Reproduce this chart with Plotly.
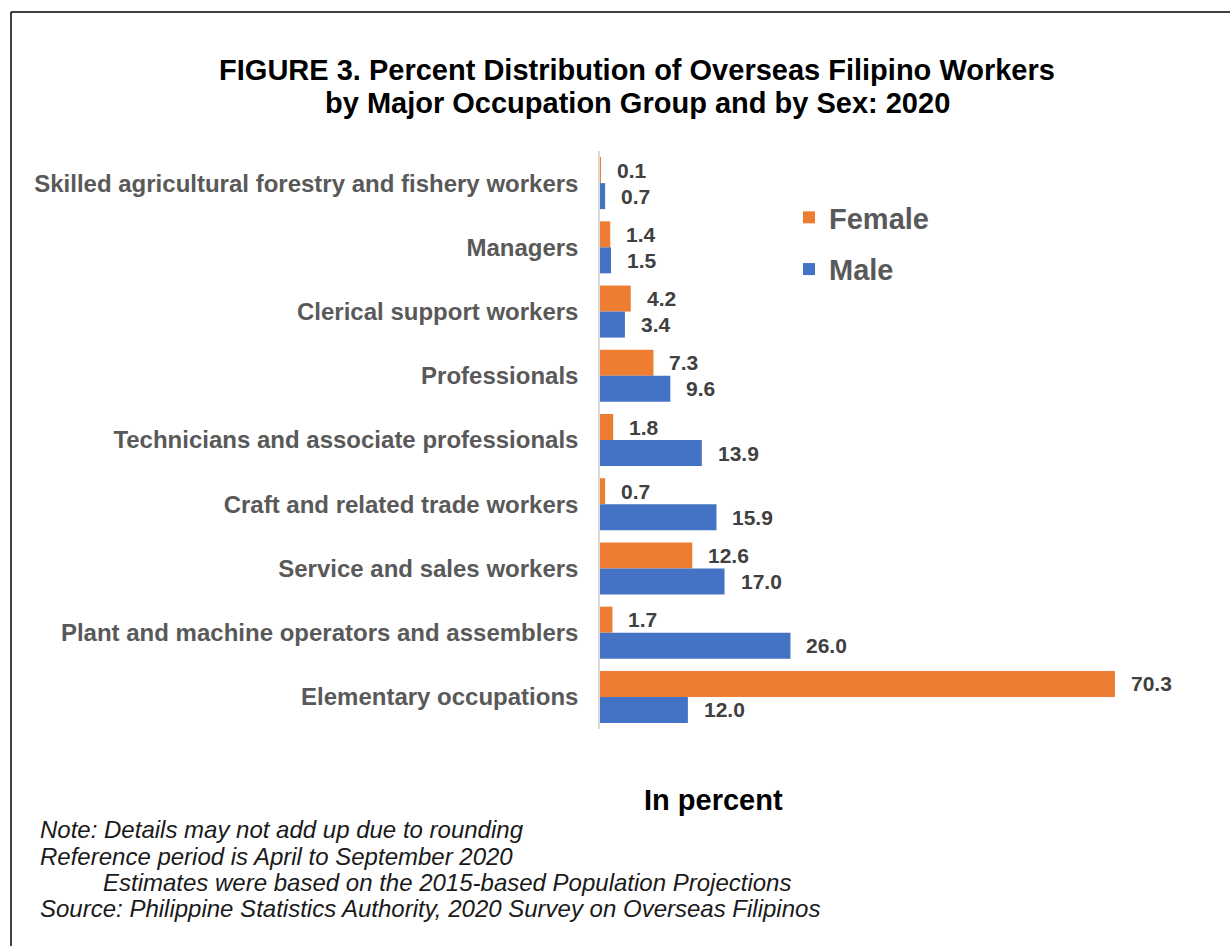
import plotly.graph_objects as go

categories = [
    "Skilled agricultural forestry and fishery workers",
    "Managers",
    "Clerical support workers",
    "Professionals",
    "Technicians and associate professionals",
    "Craft and related trade workers",
    "Service and sales workers",
    "Plant and machine operators and assemblers",
    "Elementary occupations",
]
female = [0.1, 1.4, 4.2, 7.3, 1.8, 0.7, 12.6, 1.7, 70.3]
male = [0.7, 1.5, 3.4, 9.6, 13.9, 15.9, 17.0, 26.0, 12.0]

title_line1 = "FIGURE 3. Percent Distribution of Overseas Filipino Workers"
title_line2 = "by Major Occupation Group and by Sex: 2020"
axis_title = "In percent"
notes = [
    "Note: Details may not add up due to rounding",
    "Reference period is April to September 2020",
    "Estimates were based on the 2015-based Population Projections",
    "Source: Philippine Statistics Authority, 2020 Survey on Overseas Filipinos",
]

W, H = 1230, 946
L, R, T, B = 600, 44, 151, 217
PW, PH = W - L - R, H - T - B


def px_x(px):
    return (px - L) / PW


def px_y(py):
    return (H - B - py) / PH


FEMALE_C = "#ED7D31"
MALE_C = "#4472C4"
FONT = "Liberation Sans, Arial, sans-serif"

fig = go.Figure()
fig.add_trace(go.Bar(y=categories, x=female, name="Female", orientation="h",
                     marker=dict(color=FEMALE_C, line=dict(width=0)), legendgroup="f"))
fig.add_trace(go.Bar(y=categories, x=male, name="Male", orientation="h",
                     marker=dict(color=MALE_C, line=dict(width=0)), legendgroup="m"))

annotations = []
for c, v in zip(categories, female):
    annotations.append(dict(x=v, y=c, xref="x", yref="y", text=f"<b>{v:.1f}</b>",
                            showarrow=False, xanchor="left", yanchor="middle",
                            xshift=14, yshift=13,
                            font=dict(family=FONT, size=21, color="#404040")))
for c, v in zip(categories, male):
    annotations.append(dict(x=v, y=c, xref="x", yref="y", text=f"<b>{v:.1f}</b>",
                            showarrow=False, xanchor="left", yanchor="middle",
                            xshift=14, yshift=-13,
                            font=dict(family=FONT, size=21, color="#404040")))

annotations.append(dict(x=px_x(637), y=px_y(103), xref="paper", yref="paper",
                        text=f"<b>{title_line2}</b>", showarrow=False,
                        xanchor="center", yanchor="middle",
                        font=dict(family=FONT, size=29, color="#000000")))
annotations.append(dict(x=px_x(713), y=px_y(800), xref="paper", yref="paper",
                        text=f"<b>{axis_title}</b>", showarrow=False,
                        xanchor="center", yanchor="middle",
                        font=dict(family=FONT, size=29, color="#000000")))
note_x = [38, 38, 101, 38]
note_y = [829, 856, 882, 909]
for t, nx, ny in zip(notes, note_x, note_y):
    annotations.append(dict(x=px_x(nx), y=px_y(ny), xref="paper", yref="paper",
                            text=f"<i>{t}</i>", showarrow=False,
                            xanchor="left", yanchor="middle",
                            font=dict(family=FONT, size=24, color="#1a1a1a")))

shapes = [
    dict(type="line", xref="paper", yref="paper", x0=px_x(11), x1=px_x(1240),
         y0=px_y(12), y1=px_y(12), line=dict(color="#000000", width=1.5)),
    dict(type="line", xref="paper", yref="paper", x0=px_x(11), x1=px_x(11),
         y0=px_y(12), y1=px_y(960), line=dict(color="#000000", width=1.5)),
]

fig.update_layout(
    width=W, height=H,
    margin=dict(l=L, r=R, t=T, b=B, autoexpand=False),
    paper_bgcolor="white", plot_bgcolor="white",
    barmode="group", bargap=0.19, bargroupgap=0,
    title=dict(text=f"<b>{title_line1}</b>", x=637 / W, xanchor="center",
               y=1 - 70 / H, yanchor="middle",
               font=dict(family=FONT, size=29, color="#000000")),
    xaxis=dict(range=[0, 80], showticklabels=False, showgrid=False, zeroline=False,
               showline=False, fixedrange=True),
    yaxis=dict(autorange="reversed", showgrid=False, zeroline=False,
               showline=True, linecolor="#D9D9D9", linewidth=1.5,
               ticks="", ticklabelstandoff=15,
               tickfont=dict(family=FONT, size=24, color="#595959", weight="bold")),
    legend=dict(xref="container", yref="container", x=789 / W, y=1 - 192 / H,
                xanchor="left", yanchor="top", traceorder="grouped",
                tracegroupgap=11, bgcolor="rgba(0,0,0,0)",
                font=dict(family=FONT, size=29, color="#595959", weight="bold"),
                itemwidth=30),
    annotations=annotations,
    shapes=shapes,
    showlegend=True,
)

fig.write_html("out.html", config={"displayModeBar": False},
               post_script="document.body.style.margin='0';")
